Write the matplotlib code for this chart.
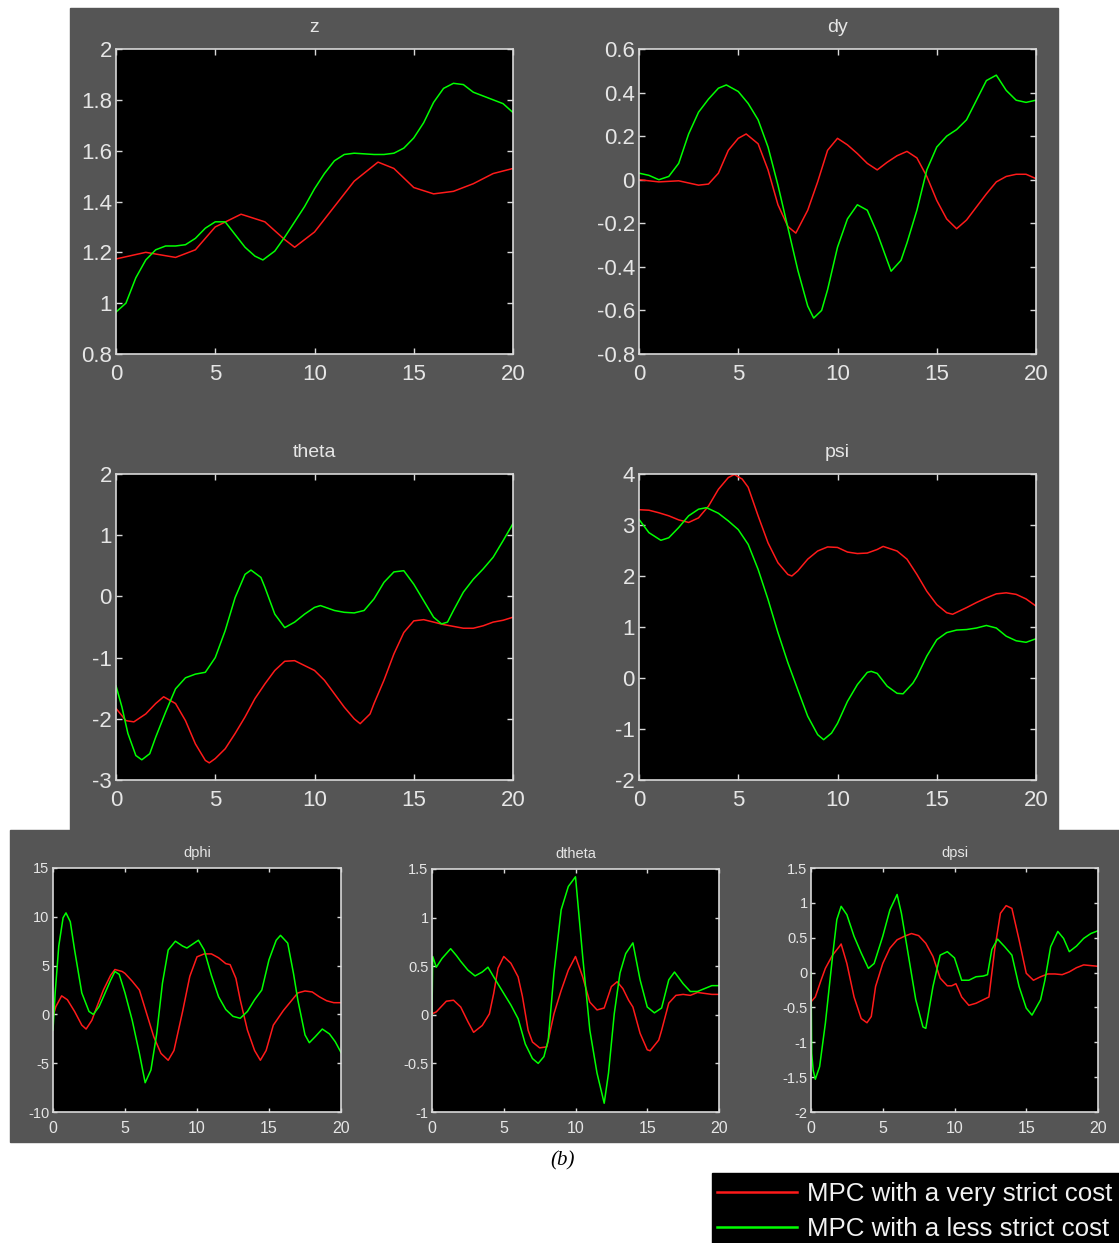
import matplotlib

matplotlib.use("Agg")
import matplotlib.pyplot as plt
from matplotlib.patches import Rectangle

# ---------------------------------------------------------------------------
# Data (time in s, two MPC variants).
# ---------------------------------------------------------------------------
Z_RED_T = [0, 1.5, 3, 4, 5, 6.3, 7.5, 8.5, 9, 10, 11, 12, 13.2, 14, 15, 16, 17, 18, 19, 20]
Z_RED = [1.174, 1.2, 1.18, 1.21, 1.30, 1.35, 1.32, 1.25, 1.22, 1.28, 1.38, 1.48, 1.555,
         1.53, 1.455, 1.43, 1.44, 1.47, 1.51, 1.53]
Z_GRN_T = [0, 0.5, 1, 1.5, 2, 2.5, 3, 3.5, 4, 4.5, 5, 5.5, 6, 6.5, 7, 7.4, 8, 8.5, 9, 9.5,
           10, 10.5, 11, 11.5, 12, 13, 13.5, 14, 14.5, 15, 15.5, 16, 16.5, 17, 17.5, 18,
           18.5, 19, 19.5, 20]
Z_GRN = [0.965, 1.0, 1.1, 1.17, 1.21, 1.225, 1.225, 1.23, 1.255, 1.295, 1.32, 1.32, 1.27,
         1.22, 1.185, 1.17, 1.205, 1.26, 1.32, 1.38, 1.45, 1.51, 1.56, 1.585, 1.59, 1.585,
         1.585, 1.59, 1.61, 1.65, 1.71, 1.79, 1.845, 1.865, 1.86, 1.83, 1.815, 1.80, 1.785,
         1.75]

DY_RED_T = [0, 1, 2, 2.5, 3, 3.5, 4, 4.5, 5, 5.4, 6, 6.5, 7, 7.5, 7.9, 8.5, 9, 9.5, 10,
            10.5, 11, 11.5, 12, 12.5, 13, 13.5, 14, 14.5, 15, 15.5, 16, 16.5, 17, 17.5,
            18, 18.5, 19, 19.5, 20]
DY_RED = [0, -0.01, -0.005, -0.015, -0.025, -0.02, 0.03, 0.135, 0.19, 0.21, 0.165, 0.045,
          -0.115, -0.215, -0.245, -0.14, -0.01, 0.135, 0.19, 0.16, 0.12, 0.075, 0.045,
          0.08, 0.11, 0.13, 0.1, 0.015, -0.095, -0.18, -0.225, -0.185, -0.125, -0.065,
          -0.01, 0.015, 0.025, 0.025, 0.005]
DY_GRN_T = [0, 0.5, 1, 1.5, 2, 2.5, 3, 3.5, 4, 4.4, 5, 5.5, 6, 6.5, 7, 7.5, 8, 8.5, 8.8,
            9.2, 9.5, 10, 10.5, 11, 11.5, 12, 12.5, 12.7, 13.2, 13.5, 14, 14.5, 15, 15.5,
            16, 16.5, 17, 17.5, 18, 18.5, 19, 19.5, 20]
DY_GRN = [0.03, 0.02, 0, 0.015, 0.075, 0.21, 0.31, 0.37, 0.42, 0.435, 0.405, 0.35, 0.275,
          0.15, -0.025, -0.22, -0.415, -0.58, -0.635, -0.6, -0.505, -0.31, -0.18, -0.115,
          -0.14, -0.245, -0.37, -0.42, -0.37, -0.29, -0.14, 0.045, 0.15, 0.2, 0.23, 0.275,
          0.365, 0.455, 0.48, 0.41, 0.365, 0.355, 0.365]

TH_RED_T = [0, 0.5, 0.9, 1.5, 2, 2.4, 3, 3.5, 4, 4.5, 4.7, 5, 5.5, 6, 6.5, 7, 7.5, 8, 8.5,
            9, 9.5, 10, 10.5, 11, 11.5, 12, 12.3, 12.8, 13, 13.5, 14, 14.5, 15, 15.5, 16,
            16.5, 17, 17.5, 18, 18.5, 19, 19.5, 20]
TH_RED = [-1.83, -2.03, -2.05, -1.92, -1.75, -1.64, -1.75, -2.03, -2.41, -2.68, -2.72,
          -2.65, -2.49, -2.24, -1.97, -1.67, -1.43, -1.21, -1.06, -1.05, -1.13, -1.21,
          -1.37, -1.59, -1.81, -2.0, -2.08, -1.92, -1.75, -1.37, -0.94, -0.59, -0.40,
          -0.38, -0.42, -0.46, -0.49, -0.52, -0.52, -0.48, -0.42, -0.39, -0.34]
TH_GRN_T = [0, 0.3, 0.6, 1.0, 1.3, 1.7, 2, 2.5, 3, 3.5, 4, 4.5, 5, 5.5, 6, 6.5, 6.8, 7.3,
            7.5, 8, 8.5, 9, 9.5, 10, 10.3, 11, 11.5, 12, 12.5, 13, 13.5, 14, 14.5, 15,
            15.5, 16, 16.4, 16.7, 17, 17.5, 18, 18.5, 19, 19.5, 20]
TH_GRN = [-1.46, -1.81, -2.24, -2.60, -2.67, -2.57, -2.30, -1.89, -1.51, -1.33, -1.27,
          -1.24, -1.0, -0.56, -0.02, 0.36, 0.43, 0.31, 0.15, -0.29, -0.51, -0.42, -0.29,
          -0.18, -0.15, -0.23, -0.26, -0.27, -0.23, -0.04, 0.23, 0.40, 0.42, 0.20, -0.07,
          -0.34, -0.45, -0.42, -0.23, 0.07, 0.28, 0.45, 0.64, 0.91, 1.19]

PSI_RED_T = [0, 0.5, 1, 1.5, 2, 2.5, 3, 3.5, 4, 4.5, 4.8, 5.2, 5.5, 6, 6.5, 7, 7.5, 7.7, 8,
             8.5, 9, 9.5, 10, 10.5, 11, 11.5, 12, 12.3, 13, 13.5, 14, 14.5, 15, 15.5,
             15.8, 16.5, 17, 17.5, 18, 18.5, 19, 19.5, 20]
PSI_RED = [3.30, 3.29, 3.24, 3.18, 3.10, 3.05, 3.14, 3.37, 3.70, 3.93, 3.99, 3.90, 3.74,
           3.18, 2.65, 2.26, 2.03, 2.0, 2.10, 2.33, 2.49, 2.57, 2.56, 2.47, 2.44, 2.45,
           2.52, 2.58, 2.49, 2.33, 2.03, 1.70, 1.44, 1.28, 1.25, 1.38, 1.48, 1.57, 1.65,
           1.67, 1.64, 1.55, 1.41]
PSI_GRN_T = [0, 0.5, 1.1, 1.5, 2, 2.5, 3, 3.4, 4, 4.5, 5, 5.5, 6, 6.5, 7, 7.5, 8, 8.5, 9,
             9.3, 9.7, 10, 10.5, 11, 11.5, 11.7, 12, 12.5, 13, 13.3, 13.8, 14, 14.5, 15,
             15.5, 16, 16.5, 17, 17.5, 18, 18.5, 19, 19.5, 20]
PSI_GRN = [3.11, 2.85, 2.70, 2.75, 2.95, 3.18, 3.31, 3.34, 3.23, 3.08, 2.91, 2.62, 2.13,
           1.54, 0.89, 0.30, -0.23, -0.75, -1.11, -1.21, -1.08, -0.89, -0.46, -0.13, 0.11,
           0.13, 0.09, -0.16, -0.30, -0.31, -0.10, 0.03, 0.43, 0.75, 0.89, 0.94, 0.95,
           0.98, 1.03, 0.98, 0.82, 0.73, 0.70, 0.77]

DPHI_RED_T = [0, 0.2, 0.6, 1, 1.5, 2, 2.3, 2.7, 3, 3.5, 4, 4.3, 4.8, 5, 5.5, 6, 6.5, 7,
              7.5, 8, 8.4, 9, 9.5, 10, 10.5, 11, 11.5, 12, 12.3, 12.7, 13, 13.5, 14, 14.4,
              14.8, 15.3, 16, 16.5, 17, 17.5, 18, 18.5, 19, 19.5, 20]
DPHI_RED = [-0.2, 0.8, 1.9, 1.5, 0.3, -1.1, -1.5, -0.6, 0.6, 2.5, 4.0, 4.6, 4.4, 4.2, 3.4,
            2.5, 0.1, -2.3, -4.0, -4.7, -3.7, 0.3, 3.9, 5.9, 6.2, 6.2, 5.8, 5.2, 5.1, 3.7,
            1.5, -1.6, -3.7, -4.7, -3.7, -1.1, 0.4, 1.3, 2.2, 2.4, 2.3, 1.8, 1.4, 1.2, 1.2]
DPHI_GRN_T = [0, 0.15, 0.4, 0.7, 0.9, 1.2, 1.5, 2, 2.5, 2.8, 3.2, 3.5, 4, 4.3, 4.6, 5, 5.5,
              6, 6.4, 6.8, 7.2, 7.6, 8, 8.5, 9, 9.3, 9.8, 10.1, 10.5, 11, 11.5, 12, 12.5,
              13, 13.5, 14, 14.5, 15, 15.5, 15.8, 16.3, 16.7, 17, 17.5, 17.8, 18.2, 18.7,
              19.2, 19.6, 20]
DPHI_GRN = [-1.6, 2.2, 7.0, 9.9, 10.4, 9.5, 6.6, 2.2, 0.3, 0.0, 0.8, 1.8, 3.5, 4.4, 4.1,
            2.2, -0.6, -4.0, -7.0, -5.7, -2.0, 3.2, 6.6, 7.5, 7.0, 6.8, 7.3, 7.6, 6.6, 4.0,
            1.8, 0.5, -0.2, -0.4, 0.3, 1.5, 2.5, 5.6, 7.6, 8.1, 7.3, 4.2, 1.5, -2.1, -2.9,
            -2.3, -1.5, -2.0, -2.8, -3.9]

DTH_RED_T = [0, 0.3, 1, 1.5, 2, 2.5, 2.9, 3.5, 4, 4.3, 4.6, 5, 5.5, 6, 6.3, 6.7, 7, 7.5, 8,
             8.5, 9, 9.5, 10, 10.5, 11, 11.5, 12, 12.5, 12.9, 13.3, 13.7, 14, 14.5, 15,
             15.2, 15.8, 16, 16.5, 17, 17.5, 18, 18.5, 19, 19.5, 20]
DTH_RED = [0.01, 0.03, 0.14, 0.15, 0.08, -0.07, -0.18, -0.11, 0.01, 0.22, 0.48, 0.60,
           0.53, 0.39, 0.19, -0.16, -0.28, -0.34, -0.33, 0.01, 0.25, 0.46, 0.60, 0.39,
           0.13, 0.05, 0.07, 0.29, 0.34, 0.27, 0.15, 0.08, -0.19, -0.36, -0.37, -0.26,
           -0.16, 0.12, 0.20, 0.21, 0.20, 0.23, 0.22, 0.21, 0.21]
DTH_GRN_T = [0, 0.05, 0.3, 0.7, 1.3, 1.7, 2, 2.5, 3, 3.5, 3.9, 4.3, 5, 5.5, 6, 6.5, 7, 7.4,
             7.8, 8.1, 8.5, 9, 9.5, 10, 10.5, 11, 11.5, 12, 12.3, 12.7, 13.1, 13.5, 14,
             14.5, 15, 15.5, 16, 16.5, 16.9, 17.5, 18, 18.5, 19, 19.5, 20]
DTH_GRN = [0.0, 0.6, 0.49, 0.58, 0.68, 0.61, 0.55, 0.46, 0.40, 0.44, 0.49, 0.39, 0.22,
           0.10, -0.04, -0.30, -0.45, -0.50, -0.43, -0.26, 0.43, 1.08, 1.32, 1.42, 0.60,
           -0.16, -0.60, -0.91, -0.60, 0.01, 0.43, 0.63, 0.74, 0.36, 0.08, 0.02, 0.07,
           0.36, 0.44, 0.32, 0.24, 0.24, 0.27, 0.30, 0.30]

DPSI_RED_T = [0, 0.3, 0.7, 1, 1.5, 2, 2.1, 2.5, 3, 3.5, 3.9, 4.2, 4.5, 5, 5.5, 6, 6.5, 7,
              7.5, 8, 8.5, 9, 9.5, 9.8, 10.1, 10.5, 11, 11.5, 12, 12.4, 12.8, 13.2, 13.6,
              14, 14.5, 15, 15.5, 16, 16.5, 17, 17.5, 18, 18.5, 19, 19.5, 20]
DPSI_RED = [-0.42, -0.35, -0.11, 0.06, 0.25, 0.38, 0.41, 0.13, -0.35, -0.66, -0.72, -0.63,
            -0.20, 0.13, 0.35, 0.47, 0.52, 0.56, 0.53, 0.42, 0.23, -0.08, -0.19, -0.19,
            -0.16, -0.35, -0.47, -0.44, -0.39, -0.35, 0.33, 0.85, 0.96, 0.92, 0.47, -0.01,
            -0.11, -0.06, -0.02, -0.02, -0.03, 0.01, 0.07, 0.11, 0.10, 0.09]
DPSI_GRN_T = [0, 0.05, 0.15, 0.3, 0.6, 1, 1.5, 1.8, 2.1, 2.5, 3, 3.5, 4, 4.4, 5, 5.5, 6,
              6.3, 6.8, 7.3, 7.8, 8, 8.5, 9, 9.5, 10, 10.5, 11, 11.5, 12, 12.3, 12.6, 13,
              13.5, 14, 14.5, 15, 15.4, 16, 16.3, 16.7, 17.2, 17.6, 18, 18.5, 19, 19.5, 20]
DPSI_GRN = [0.0, -1.16, -1.40, -1.53, -1.35, -0.73, 0.23, 0.76, 0.95, 0.83, 0.52, 0.28,
            0.06, 0.13, 0.52, 0.90, 1.12, 0.85, 0.23, -0.39, -0.78, -0.80, -0.20, 0.25,
            0.30, 0.21, -0.11, -0.11, -0.06, -0.05, -0.03, 0.33, 0.48, 0.37, 0.25, -0.20,
            -0.51, -0.61, -0.39, -0.11, 0.37, 0.59, 0.49, 0.30, 0.38, 0.49, 0.56, 0.60]

X_TICKS = [0, 5, 10, 15, 20]
LABELS = ["MPC with a very strict cost", "MPC with a less strict cost"]

# title, red, green, y-limits, y-ticks, y-tick labels, pixel box (l, t, r, b), big?
PANELS = [
    ("z", (Z_RED_T, Z_RED), (Z_GRN_T, Z_GRN), (0.8, 2),
     [0.8, 1, 1.2, 1.4, 1.6, 1.8, 2], ["0.8", "1", "1.2", "1.4", "1.6", "1.8", "2"],
     (116, 49, 513, 354), True),
    ("dy", (DY_RED_T, DY_RED), (DY_GRN_T, DY_GRN), (-0.8, 0.6),
     [-0.8, -0.6, -0.4, -0.2, 0, 0.2, 0.4, 0.6],
     ["-0.8", "-0.6", "-0.4", "-0.2", "0", "0.2", "0.4", "0.6"],
     (639, 49, 1036, 354), True),
    ("theta", (TH_RED_T, TH_RED), (TH_GRN_T, TH_GRN), (-3, 2),
     [-3, -2, -1, 0, 1, 2], ["-3", "-2", "-1", "0", "1", "2"],
     (116, 474, 513, 780), True),
    ("psi", (PSI_RED_T, PSI_RED), (PSI_GRN_T, PSI_GRN), (-2, 4),
     [-2, -1, 0, 1, 2, 3, 4], ["-2", "-1", "0", "1", "2", "3", "4"],
     (639, 474, 1036, 780), True),
    ("dphi", (DPHI_RED_T, DPHI_RED), (DPHI_GRN_T, DPHI_GRN), (-10, 15),
     [-10, -5, 0, 5, 10, 15], ["-10", "-5", "0", "5", "10", "15"],
     (53, 868, 341, 1112), False),
    ("dtheta", (DTH_RED_T, DTH_RED), (DTH_GRN_T, DTH_GRN), (-1, 1.5),
     [-1, -0.5, 0, 0.5, 1, 1.5], ["-1", "-0.5", "0", "0.5", "1", "1.5"],
     (432, 869, 719, 1112), False),
    ("dpsi", (DPSI_RED_T, DPSI_RED), (DPSI_GRN_T, DPSI_GRN), (-2, 1.5),
     [-2, -1.5, -1, -0.5, 0, 0.5, 1, 1.5],
     ["-2", "-1.5", "-1", "-0.5", "0", "0.5", "1", "1.5"],
     (811, 868, 1098, 1112), False),
]

W, H = 1119, 1243
GRAY = "#555555"
TXT = "#e6e6e6"
RED = "#ff1a1a"
GREEN = "#00ff00"


def px_box(l, t, r, b):
    return [l / W, 1 - b / H, (r - l) / W, (b - t) / H]


def main():
    plt.rcParams["font.family"] = ["Liberation Sans", "DejaVu Sans"]
    fig = plt.figure(figsize=(W / 100, H / 100), dpi=100, facecolor="white")

    # grey backdrops of the two figure windows and the black legend box
    for l, t, r, b, c in [(70, 8, 1058, 830, GRAY), (10, 830, 1119, 1142, GRAY),
                          (712, 1173, 1119, 1243, "black")]:
        fig.patches.append(Rectangle((l / W, 1 - b / H), (r - l) / W, (b - t) / H,
                                     transform=fig.transFigure, color=c, zorder=-5))

    handles = None
    for title, red, grn, ylim, yticks, ylabels, box, big in PANELS:
        ax = fig.add_axes(px_box(*box))
        ax.set_facecolor("black")
        hr, = ax.plot(red[0], red[1], color=RED, lw=1.1)
        hg, = ax.plot(grn[0], grn[1], color=GREEN, lw=1.1)
        handles = [hr, hg]
        ax.set_xlim(0, 20)
        ax.set_ylim(*ylim)
        ax.set_xticks(X_TICKS)
        ax.set_xticklabels([str(v) for v in X_TICKS])
        ax.set_yticks(yticks)
        ax.set_yticklabels(ylabels)
        ax.tick_params(direction="in", top=True, right=True, colors="#d8d8d8",
                       labelcolor=TXT, length=4 if big else 3, width=1)
        ax.tick_params(axis="x", labelsize=16 if big else 11.5, pad=7 if big else 6.5)
        ax.tick_params(axis="y", labelsize=16 if big else 10.5, pad=3 if big else 2.5)
        for sp in ax.spines.values():
            sp.set_color("#d8d8d8")
            sp.set_linewidth(1.2)
        ax.set_title(title, color=TXT, fontsize=14 if big else 10.5,
                     pad=12 if big else 8)

    fig.text(563 / W, 1 - 1161 / H, "(b)", family="Liberation Serif",
             style="italic", fontsize=15, ha="center", va="center", color="black")

    leg = fig.legend(handles, LABELS, loc="center",
                     bbox_to_anchor=(915 / W, 1 - 1211.5 / H),
                     fontsize=18.6, labelcolor="#f2f2f2", frameon=False,
                     handlelength=3.1, handletextpad=0.39, borderpad=0,
                     labelspacing=0.45, borderaxespad=0)
    for line in leg.get_lines():
        line.set_linewidth(1.8)

    fig.savefig("out.png", dpi=100, facecolor="white")
    plt.close(fig)


if __name__ == "__main__":
    main()
